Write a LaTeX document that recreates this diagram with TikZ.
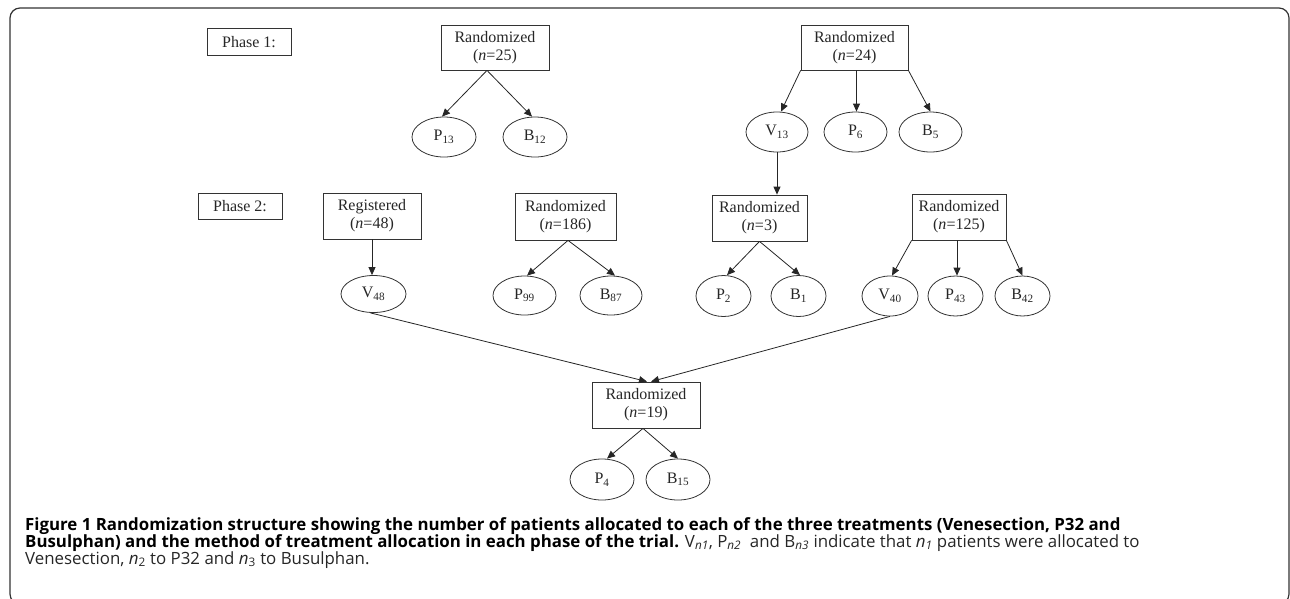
\documentclass[tikz,border=0pt]{standalone}
\usepackage{fontspec}
\setmainfont{Liberation Serif}
\newfontfamily\capfont{Open Sans}
\usetikzlibrary{shapes.geometric,arrows.meta}
\tikzset{
  lbl/.style={font=\fontsize{16}{18}\selectfont, text=black!85},
  box/.style={lbl, draw=black!80, line width=0.8pt, align=center, inner sep=0pt},
  oval/.style={lbl, draw=black!80, ellipse, line width=0.8pt, inner sep=0pt},
  arr/.style={-{Triangle[length=8pt,width=7pt]}, line width=0.8pt, draw=black!85},
  captxt/.style={font=\capfont\fontsize{16.85}{18}\selectfont, text=black!85, inner sep=0pt, anchor=base west},
}
\newcommand{\sbs}[1]{\textsubscript{#1}}
\begin{document}
\begin{tikzpicture}[x=1pt,y=-1pt]
\useasboundingbox (0,0) rectangle (1290,598);
\draw[black!80, line width=1.2pt, rounded corners=10pt] (10,8) rectangle (1289,604);

% Phase 1
\node[box, minimum width=84pt, minimum height=27pt] (ph1) at (249,42) {Phase 1:};
\node[box, minimum width=108pt, minimum height=45pt] (r25) at (495,47.5) {Randomized\\(\textit{n}=25)};
\node[oval, minimum width=64pt, minimum height=40pt] (p13) at (444,137) {P\sbs{13}};
\node[oval, minimum width=64pt, minimum height=40pt] (b12) at (535,137) {B\sbs{12}};
\node[box, minimum width=107pt, minimum height=45pt] (r24) at (854.5,47.5) {Randomized\\(\textit{n}=24)};
\node[oval, minimum width=62pt, minimum height=40pt] (v13) at (777,132) {V\sbs{13}};
\node[oval, minimum width=63pt, minimum height=40pt] (p6) at (855.5,132) {P\sbs{6}};
\node[oval, minimum width=63pt, minimum height=40pt] (b5) at (930.5,132) {B\sbs{5}};

% Phase 2
\node[box, minimum width=84pt, minimum height=26pt] (ph2) at (240,206) {Phase 2:};
\node[box, minimum width=98pt, minimum height=46pt] (reg) at (372,216) {Registered\\(\textit{n}=48)};
\node[oval, minimum width=65pt, minimum height=37pt] (v48) at (373.5,294) {V\sbs{48}};
\node[box, minimum width=101pt, minimum height=47pt] (r186) at (565.5,216.5) {Randomized\\(\textit{n}=186)};
\node[oval, minimum width=63pt, minimum height=39pt] (p99) at (524.5,295.5) {P\sbs{99}};
\node[oval, minimum width=62pt, minimum height=39pt] (b87) at (611,295.5) {B\sbs{87}};
\node[box, minimum width=95pt, minimum height=46pt] (r3) at (759.5,218) {Randomized\\(\textit{n}=3)};
\node[oval, minimum width=55pt, minimum height=41pt] (p2) at (723.5,296) {P\sbs{2}};
\node[oval, minimum width=55pt, minimum height=41pt] (b1) at (798.5,296) {B\sbs{1}};
\node[box, minimum width=94pt, minimum height=46pt] (r125) at (959,217) {Randomized\\(\textit{n}=125)};
\node[oval, minimum width=56pt, minimum height=40pt] (v40) at (890,296) {V\sbs{40}};
\node[oval, minimum width=55pt, minimum height=40pt] (p43) at (955.5,296) {P\sbs{43}};
\node[oval, minimum width=55pt, minimum height=40pt] (b42) at (1022.5,296) {B\sbs{42}};

\node[box, minimum width=108pt, minimum height=46pt] (r19) at (646,405) {Randomized\\(\textit{n}=19)};
\node[oval, minimum width=64pt, minimum height=41pt] (p4) at (602,479.5) {P\sbs{4}};
\node[oval, minimum width=64pt, minimum height=41pt] (b15) at (678,479.5) {B\sbs{15}};

% arrows
\draw[arr] ([xshift=-8pt]r25.south) -- ([xshift=-2pt]p13.north);
\draw[arr] ([xshift=-8pt]r25.south) -- ([xshift=-3pt]b12.north);
\draw[arr] (r24.south west) -- ([xshift=4pt]v13.north);
\draw[arr] ([xshift=2pt]r24.south) -- ([xshift=2pt]r24.south |- p6.north);
\draw[arr] (r24.south east) -- (b5.north);
\draw[arr] (v13.south) -- (v13.south |- r3.north);
\draw[arr] (reg.south) -- (reg.south |- v48.north);
\draw[arr] ([xshift=2.5pt]r186.south) -- ([xshift=2.5pt]p99.north);
\draw[arr] ([xshift=2.5pt]r186.south) -- ([xshift=4pt]b87.north);
\draw[arr] (r3.south) -- ([xshift=3.5pt]p2.north);
\draw[arr] (r3.south) -- ([xshift=1.5pt]b1.north);
\draw[arr] (r125.south west) -- ([xshift=2pt]v40.north);
\draw[arr] ([xshift=-2pt]r125.south) -- ([xshift=-2pt]r125.south |- p43.north);
\draw[arr] (r125.south east) -- (b42.north);
\draw[arr] ([xshift=-3pt]v48.south) -- ([xshift=1pt]r19.north);
\draw[arr] (v40.south) -- ([xshift=5pt]r19.north);
\draw[arr] ([xshift=-3pt]r19.south) -- ([xshift=5pt]p4.north);
\draw[arr] ([xshift=-3pt]r19.south) -- (b15.north);

% caption
\node[captxt] (cap1) at (25,530) {\bfseries\color{black}Figure 1 Randomization structure showing the number of patients allocated to each of the three treatments (Venesection, P32 and};
\node[captxt] (cap2) at (25,547) {{\bfseries\color{black}Busulphan) and the method of treatment allocation in each phase of the trial.} V\sbs{\itshape n1}, P\sbs{\itshape n2}\ \ and B\sbs{\itshape n3} indicate that \textit{n}\sbs{\itshape 1} patients were allocated to};
\node[captxt] (cap3) at (25,564) {Venesection, \textit{n}\sbs{2} to P32 and \textit{n}\sbs{3} to Busulphan.};
\end{tikzpicture}
\end{document}
